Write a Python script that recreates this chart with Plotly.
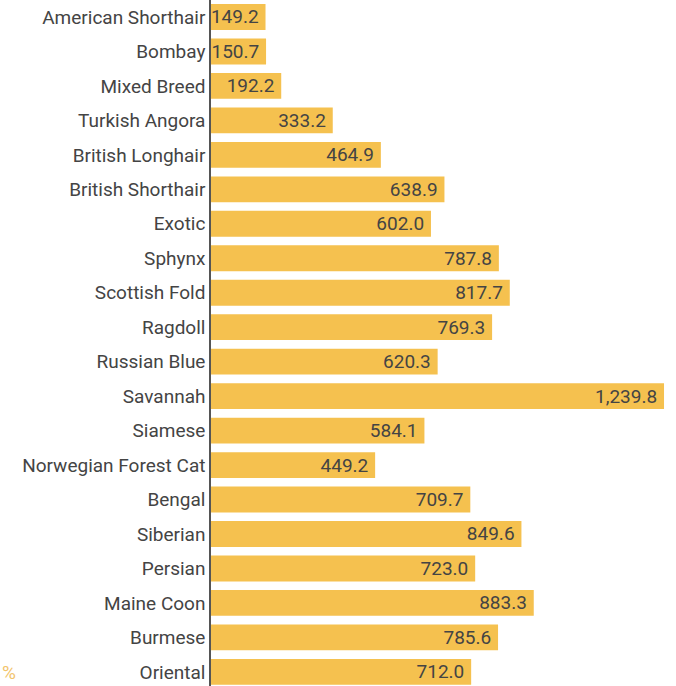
import plotly.graph_objects as go

breeds = ["American Shorthair", "Bombay", "Mixed Breed", "Turkish Angora", "British Longhair",
          "British Shorthair", "Exotic", "Sphynx", "Scottish Fold", "Ragdoll", "Russian Blue",
          "Savannah", "Siamese", "Norwegian Forest Cat", "Bengal", "Siberian", "Persian",
          "Maine Coon", "Burmese", "Oriental"]
values = [149.2, 150.7, 192.2, 333.2, 464.9, 638.9, 602.0, 787.8, 817.7, 769.3, 620.3,
          1239.8, 584.1, 449.2, 709.7, 849.6, 723.0, 883.3, 785.6, 712.0]

BAR = "#F5C14F"
TXT = "#444444"
FONT = "Roboto, Arial, sans-serif"

fig = go.Figure(go.Bar(
    x=values, y=breeds, orientation="h",
    marker=dict(color=BAR, line=dict(width=0)),
    texttemplate="%{x:,.1f}\u2009",
    textposition="inside", insidetextanchor="end", constraintext="none",
    textfont=dict(family=FONT, size=19, color=TXT),
    hoverinfo="skip",
))

fig.update_layout(
    width=676, height=686,
    margin=dict(l=211, r=0, t=0, b=0),
    paper_bgcolor="white", plot_bgcolor="white",
    bargap=0.25, showlegend=False,
    font=dict(family=FONT, color=TXT),
    xaxis=dict(range=[0, 1272.6], showgrid=False, zeroline=False, showticklabels=False,
               showline=False, ticks=""),
    yaxis=dict(type="category", categoryorder="array", categoryarray=breeds,
               range=[19.41, -0.493], showgrid=False, zeroline=False,
               showline=True, linecolor="#555555", linewidth=1.5,
               ticks="", ticklabelstandoff=0,
               tickfont=dict(family=FONT, size=19, color=TXT)),
    annotations=[dict(text="%", x=-211 / 465, y=(686 - 672) / 686, xref="paper", yref="paper",
                      xanchor="left", yanchor="middle", showarrow=False,
                      font=dict(family=FONT, size=19, color="#F2C46B"))],
)

fig.write_html("out.html", config={"displayModeBar": False},
               post_script="document.body.style.margin='0';document.body.style.overflow='hidden';")
